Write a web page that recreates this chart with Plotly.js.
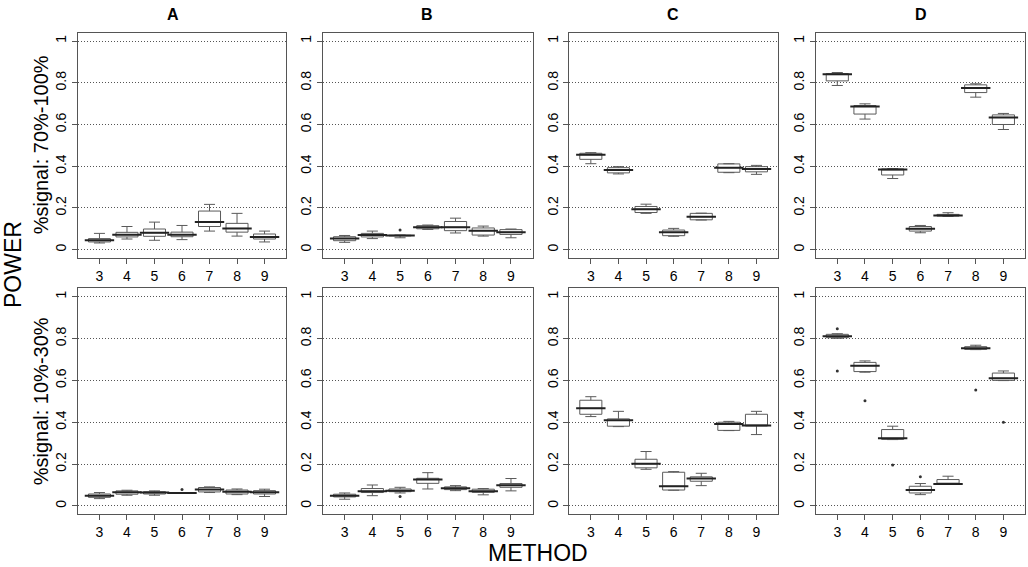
<!DOCTYPE html>
<html>
<head>
<meta charset="utf-8">
<script src="https://cdn.plot.ly/plotly-3.0.1.min.js"></script>
<style>
html,body{margin:0;padding:0;background:#fff;}
#chart{width:1028px;height:567px;}
</style>
</head>
<body>
<div id="chart"></div>
<script>
// ---------------- DATA ----------------
const methods = [3, 4, 5, 6, 7, 8, 9];
const panelNames = ["A", "B", "C", "D"];
const rowLabels = ["%signal: 70%-100%", "%signal: 10%-30%"];
const yTickVals = [0, 0.2, 0.4, 0.6, 0.8, 1];
const yTickText = ["0", "0.2", "0.4", "0.6", "0.8", "1"];

// Row 1 (%signal 70%-100%)
const A1_low = [0.032, 0.051, 0.045, 0.048, 0.089, 0.065, 0.037];
const A1_q1  = [0.037, 0.061, 0.064, 0.062, 0.111, 0.084, 0.051];
const A1_med = [0.045, 0.072, 0.081, 0.072, 0.132, 0.102, 0.061];
const A1_q3  = [0.053, 0.083, 0.099, 0.084, 0.185, 0.126, 0.075];
const A1_up  = [0.078, 0.111, 0.132, 0.116, 0.217, 0.174, 0.089];
const A1_outX = [];
const A1_outY = [];

const B1_low = [0.035, 0.053, 0.057, 0.097, 0.080, 0.065, 0.057];
const B1_q1  = [0.043, 0.061, 0.066, 0.100, 0.091, 0.070, 0.073];
const B1_med = [0.053, 0.070, 0.068, 0.108, 0.108, 0.091, 0.084];
const B1_q3  = [0.062, 0.078, 0.069, 0.115, 0.135, 0.104, 0.096];
const B1_up  = [0.068, 0.089, 0.070, 0.118, 0.151, 0.113, 0.099];
const B1_outX = [5];
const B1_outY = [0.094];

const C1_low = [0.412, 0.363, 0.174, 0.064, 0.142, 0.369, 0.361];
const C1_q1  = [0.433, 0.368, 0.178, 0.067, 0.143, 0.371, 0.373];
const C1_med = [0.455, 0.382, 0.194, 0.083, 0.158, 0.393, 0.387];
const C1_q3  = [0.462, 0.393, 0.207, 0.094, 0.174, 0.411, 0.398];
const C1_up  = [0.465, 0.398, 0.218, 0.102, 0.175, 0.412, 0.404];
const C1_outX = [];
const C1_outY = [];

const D1_low = [0.787, 0.626, 0.341, 0.081, 0.159, 0.731, 0.576];
const D1_q1  = [0.809, 0.650, 0.358, 0.089, 0.161, 0.753, 0.600];
const D1_med = [0.841, 0.686, 0.384, 0.100, 0.164, 0.775, 0.634];
const D1_q3  = [0.844, 0.691, 0.387, 0.111, 0.169, 0.790, 0.646];
const D1_up  = [0.849, 0.699, 0.389, 0.116, 0.177, 0.795, 0.653];
const D1_outX = [];
const D1_outY = [];

// Row 2 (%signal 10%-30%)
const A2_low = [0.035, 0.051, 0.051, 0.060, 0.064, 0.054, 0.045];
const A2_q1  = [0.041, 0.056, 0.057, 0.061, 0.067, 0.057, 0.057];
const A2_med = [0.049, 0.065, 0.064, 0.062, 0.078, 0.068, 0.065];
const A2_q3  = [0.057, 0.072, 0.068, 0.063, 0.088, 0.076, 0.073];
const A2_up  = [0.064, 0.075, 0.072, 0.064, 0.091, 0.081, 0.080];
const A2_outX = [6];
const A2_outY = [0.078];

const B2_low = [0.032, 0.049, 0.062, 0.081, 0.073, 0.053, 0.072];
const B2_q1  = [0.043, 0.064, 0.068, 0.108, 0.078, 0.065, 0.089];
const B2_med = [0.049, 0.070, 0.073, 0.126, 0.084, 0.070, 0.099];
const B2_q3  = [0.056, 0.083, 0.081, 0.132, 0.091, 0.080, 0.107];
const B2_up  = [0.062, 0.100, 0.089, 0.159, 0.097, 0.083, 0.131];
const B2_outX = [5];
const B2_outY = [0.045];

const C2_low = [0.427, 0.379, 0.175, 0.075, 0.097, 0.360, 0.341];
const C2_q1  = [0.438, 0.381, 0.182, 0.076, 0.118, 0.361, 0.382];
const C2_med = [0.467, 0.409, 0.201, 0.094, 0.131, 0.392, 0.384];
const C2_q3  = [0.505, 0.416, 0.223, 0.161, 0.139, 0.400, 0.438];
const C2_up  = [0.522, 0.452, 0.260, 0.164, 0.156, 0.404, 0.452];
const C2_outX = [];
const C2_outY = [];

const D2_low = [0.801, 0.639, 0.317, 0.054, 0.103, 0.747, 0.599];
const D2_q1  = [0.804, 0.642, 0.318, 0.062, 0.104, 0.748, 0.600];
const D2_med = [0.811, 0.670, 0.323, 0.076, 0.105, 0.753, 0.610];
const D2_q3  = [0.820, 0.686, 0.365, 0.094, 0.126, 0.761, 0.635];
const D2_up  = [0.823, 0.693, 0.381, 0.107, 0.142, 0.768, 0.645];
const D2_outX = [3, 3, 4, 5, 6, 8, 9];
const D2_outY = [0.847, 0.645, 0.503, 0.196, 0.139, 0.554, 0.400];

const panels = [
  [A1_low, A1_q1, A1_med, A1_q3, A1_up, A1_outX, A1_outY],
  [B1_low, B1_q1, B1_med, B1_q3, B1_up, B1_outX, B1_outY],
  [C1_low, C1_q1, C1_med, C1_q3, C1_up, C1_outX, C1_outY],
  [D1_low, D1_q1, D1_med, D1_q3, D1_up, D1_outX, D1_outY],
  [A2_low, A2_q1, A2_med, A2_q3, A2_up, A2_outX, A2_outY],
  [B2_low, B2_q1, B2_med, B2_q3, B2_up, B2_outX, B2_outY],
  [C2_low, C2_q1, C2_med, C2_q3, C2_up, C2_outX, C2_outY],
  [D2_low, D2_q1, D2_med, D2_q3, D2_up, D2_outX, D2_outY]
];

// ---------------- LAYOUT ----------------
const W = 1028, H = 567;
const FONT = "Liberation Sans, Arial, sans-serif";
const colPx = [[78, 286], [323, 532.6], [569.3, 778], [815.7, 1025]];
const rowPx = [[32.7, 258], [288.3, 514.3]];
const px2x = p => p / W;
const px2y = p => 1 - p / H;

const traces = [];
const layout = {
  width: W, height: H,
  margin: {l: 0, r: 0, t: 0, b: 0},
  paper_bgcolor: "#fff", plot_bgcolor: "#fff",
  showlegend: false,
  font: {family: FONT, color: "#000", size: 14},
  annotations: []
};

panels.forEach((p, i) => {
  const r = Math.floor(i / 4), c = i % 4;
  const n = i + 1;
  const xa = n === 1 ? "x" : "x" + n;
  const ya = n === 1 ? "y" : "y" + n;
  traces.push({
    type: "box", x: methods, xaxis: xa, yaxis: ya,
    lowerfence: p[0], q1: p[1], median: p[2], q3: p[3], upperfence: p[4],
    width: 0.8, whiskerwidth: 0.5, boxpoints: false,
    fillcolor: "#fff", line: {color: "#5a5a5a", width: 1},
    hoverinfo: "skip"
  });
  traces.push({
    type: "scatter", mode: "markers", x: methods, y: p[2], xaxis: xa, yaxis: ya,
    marker: {symbol: "line-ew", size: 21, line: {color: "#222", width: 2}},
    hoverinfo: "skip"
  });
  traces.push({
    type: "scatter", mode: "markers", x: p[5], y: p[6], xaxis: xa, yaxis: ya,
    marker: {symbol: "circle", size: 3, color: "#333"},
    hoverinfo: "skip"
  });
  const xk = n === 1 ? "xaxis" : "xaxis" + n;
  const yk = n === 1 ? "yaxis" : "yaxis" + n;
  layout[xk] = {
    domain: [px2x(colPx[c][0]), px2x(colPx[c][1])],
    anchor: ya, range: [2.22, 9.78],
    tickmode: "array", tickvals: methods, ticktext: methods.map(String),
    ticks: "outside", ticklen: 5, tickcolor: "#555",
    showline: true, mirror: true, linecolor: "#555", linewidth: 1,
    showgrid: false, zeroline: false,
    tickfont: {family: FONT, size: 14, color: "#000"}
  };
  layout[yk] = {
    domain: [px2y(rowPx[r][1]), px2y(rowPx[r][0])],
    anchor: xa, range: [-0.04, 1.04],
    tickmode: "array", tickvals: yTickVals, ticktext: yTickText,
    tickangle: -90,
    ticks: "outside", ticklen: 5, tickcolor: "#555",
    showline: true, mirror: true, linecolor: "#555", linewidth: 1,
    showgrid: true, gridcolor: "#555", griddash: "1px,2px", gridwidth: 1,
    zeroline: false,
    tickfont: {family: FONT, size: 14, color: "#000"}
  };
});

// Panel titles
const titleX = [173, 427, 673, 921];
panelNames.forEach((t, c) => {
  layout.annotations.push({
    text: "<b>" + t + "</b>", xref: "paper", yref: "paper",
    x: px2x(titleX[c]), y: px2y(14), xanchor: "center", yanchor: "middle",
    showarrow: false, font: {family: FONT, size: 16, color: "#000"}
  });
});
// Row labels
rowLabels.forEach((t, r) => {
  layout.annotations.push({
    text: t, xref: "paper", yref: "paper",
    x: px2x(41), y: px2y((rowPx[r][0] + rowPx[r][1]) / 2),
    xanchor: "center", yanchor: "middle", textangle: -90,
    showarrow: false, font: {family: FONT, size: 20, color: "#000"}
  });
});
// Outer axis titles
layout.annotations.push({
  text: "POWER", xref: "paper", yref: "paper",
  x: px2x(13), y: px2y(265), xanchor: "center", yanchor: "middle",
  textangle: -90, showarrow: false, font: {family: FONT, size: 23, color: "#000"}
});
layout.annotations.push({
  text: "METHOD", xref: "paper", yref: "paper",
  x: px2x(538), y: px2y(553), xanchor: "center", yanchor: "middle",
  showarrow: false, font: {family: FONT, size: 23, color: "#000"}
});

Plotly.newPlot("chart", traces, layout, {displayModeBar: false, staticPlot: true});
</script>
</body>
</html>
